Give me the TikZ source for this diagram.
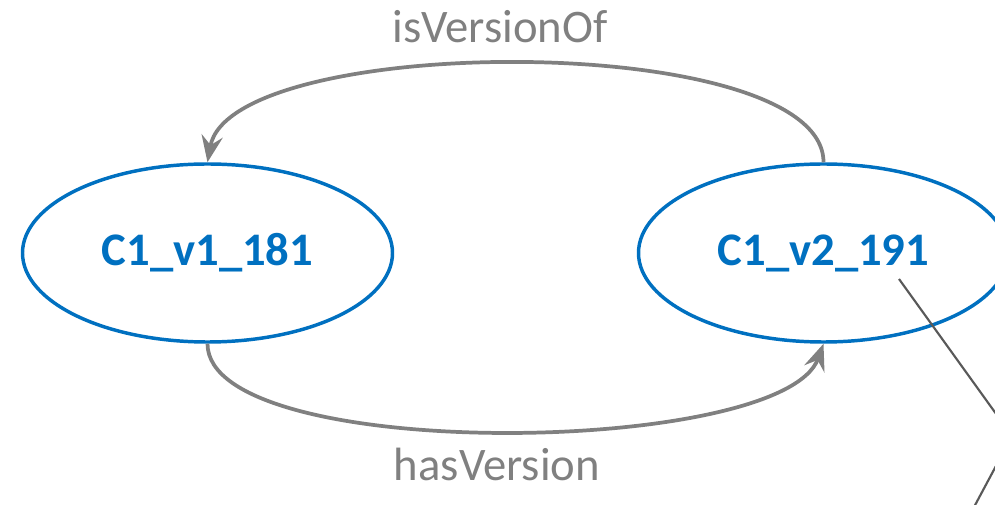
\documentclass[tikz,border=0pt]{standalone}
\usepackage{fontspec}
\setmainfont{Carlito}
\usepackage{tikz}
\usetikzlibrary{arrows.meta,shapes.geometric,positioning}

\definecolor{verblue}{HTML}{0070C0}
\definecolor{relgray}{HTML}{808080}
\definecolor{linkgray}{HTML}{595959}

\begin{document}
\begin{tikzpicture}[x=0.75pt,y=-0.75pt,node distance=462pt,on grid,font=\fontsize{35}{42}\selectfont,>={Stealth[length=20pt,width=16pt,inset=7pt]}]
	\tikzstyle{version}=[ellipse,draw=verblue,line width=2.6pt,minimum width=277.5pt,minimum height=133.5pt,inner sep=0pt,text=verblue,font=\fontsize{35}{42}\selectfont\bfseries]
	\tikzstyle{rel}=[color=relgray,line width=2.8pt]
	\tikzstyle{rellabel}=[text=relgray,anchor=base,inner sep=0pt]

	\path[use as bounding box,clip] (0,0) rectangle (995,505);

	\node[version] (V1) at (207.5,253) {C1\_v1\_181};
	\node[version] (V2) [right=of V1] {C1\_v2\_191};

	\node[rellabel] (ISV) at (500,43) {isVersionOf};
	\node[rellabel] (HASV) at (497,480) {hasVersion};

	\path[->,rel]
	(V2.north) edge [out=90,in=80,looseness=0.55] (V1.north)
	(V1.south) edge [out=-90,in=-110,looseness=0.5] (V2.south);

	% link leaving the frame on the right
	\coordinate (T) at (899,279);
	\coordinate (K) at (1012,436);
	\coordinate (B) at (958,537);
	\draw[linkgray,line width=1.6pt] (T) -- (K) -- (B);
\end{tikzpicture}
\end{document}
